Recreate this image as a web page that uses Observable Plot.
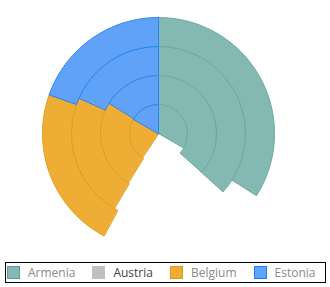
<!DOCTYPE html>
<html><head><meta charset="utf-8">
<script src="https://cdn.jsdelivr.net/npm/d3@7"></script>
<script src="https://cdn.jsdelivr.net/npm/@observablehq/plot@0.6"></script>
<style>
body{margin:0;background:#fff;font-family:"Open Sans",sans-serif;}
#chart{position:absolute;left:0;top:0;}
#legend{position:absolute;left:5px;top:262px;width:318px;height:19px;border:1px solid #000;display:flex;align-items:center;gap:17px;padding-left:1px;font-size:12px;color:#8a8a8a;}
.item{display:flex;align-items:center;}
.sw{width:11px;height:11px;border:1px solid;margin-right:8px;}
</style></head><body><div id="chart"></div><div id="legend"></div>
<script>
const categories = ["1", "2", "3", "4"];
const series = ["Armenia", "Austria", "Belgium", "Estonia"];
const armenia = [33.3, 36.7, 36.7, 34.0];
const austria = [26.1, 22.1, 21.8, 23.8];
const belgium = [23.9, 25.0, 23.2, 22.6];
const estonia = [16.7, 16.2, 18.3, 19.6];
const fills = ["#83b9b2", "none", "#eeae35", "#5fa2f7"];
const strokes = ["#6ea79e", "none", "#e19c22", "#2585f2"];
const legendFills = ["#83b9b2", "#c0c0c0", "#eeae35", "#62a4f8"];
const legendBorders = ["#5f9c93", "#c0c0c0", "#e39a1c", "#1e80f0"];
const legendText = ["#8a8a8a", "#444444", "#8a8a8a", "#8a8a8a"];

const values = [armenia, austria, belgium, estonia];
const R = 40; // outer radius in degrees of arc
const radial = d3.scaleBand().domain(categories).range([0, R]);

function sector(a0, a1, r0, r1) {
  const n = Math.max(2, Math.ceil(a1 - a0));
  const angles = d3.range(n + 1).map(k => a0 + (a1 - a0) * k / n);
  const rin = Math.max(r0, 1e-4);
  const ring = angles.map(a => [180 - a, 90 - r1])
    .concat(angles.slice().reverse().map(a => [180 - a, 90 - rin]));
  ring.push(ring[0]);
  return {type: "Feature", properties: {}, geometry: {type: "Polygon", coordinates: [ring]}};
}

const layers = series.map(() => []);
categories.forEach((c, i) => {
  const total = d3.sum(values, v => v[i]);
  const ang = d3.scaleLinear().domain([0, total]).range([0, 360]);
  let acc = 0;
  series.forEach((s, j) => {
    const v = values[j][i];
    const r0 = radial(c), r1 = r0 + radial.bandwidth();
    layers[j].push(sector(ang(acc), ang(acc + v), r0, r1));
    acc += v;
  });
});

const chart = Plot.plot({
  width: 330,
  height: 254,
  marginTop: 17,
  marginBottom: 5,
  marginLeft: 0,
  marginRight: 14,
  projection: {
    type: "azimuthal-equidistant",
    rotate: [0, -90],
    domain: d3.geoCircle().center([0, 90]).radius(R).precision(1)()
  },
  marks: series.map((s, j) => Plot.geo(layers[j], {fill: fills[j], stroke: strokes[j], strokeWidth: 1}))
});
document.getElementById("chart").appendChild(chart);

const legend = d3.select("#legend");
series.forEach((s, j) => {
  const it = legend.append("div").attr("class", "item");
  it.append("div").attr("class", "sw").style("background", legendFills[j]).style("border-color", legendBorders[j]);
  it.append("span").text(s).style("color", legendText[j]);
});
</script></body></html>
